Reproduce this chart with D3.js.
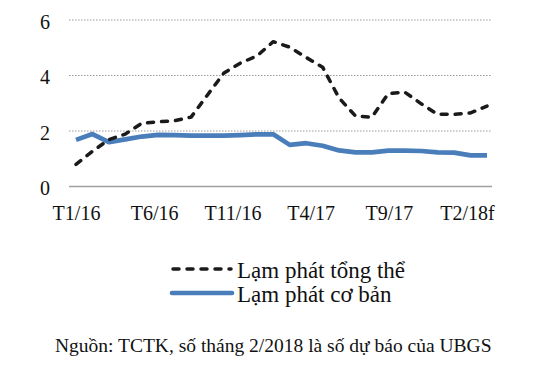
<!DOCTYPE html>
<html>
<head>
<meta charset="utf-8">
<script src="https://cdn.jsdelivr.net/npm/d3@7"></script>
<style>
  body { margin: 0; background: #fff; }
  svg text { font-family: "Liberation Serif", "Times New Roman", serif; fill: #111; }
</style>
</head>
<body>
<svg width="545" height="365"></svg>
<script>
// months Jan 2016 .. Feb 2018
const months = ["T1/16","T2/16","T3/16","T4/16","T5/16","T6/16","T7/16","T8/16","T9/16","T10/16","T11/16","T12/16",
  "T1/17","T2/17","T3/17","T4/17","T5/17","T6/17","T7/17","T8/17","T9/17","T10/17","T11/17","T12/17","T1/18","T2/18f"];
const headline = [0.8,1.27,1.69,1.89,2.28,2.33,2.37,2.5,3.3,4.09,4.45,4.7,5.22,5.02,4.65,4.3,3.19,2.54,2.5,3.35,3.4,2.98,2.6,2.6,2.65,2.9];
const core = [1.68,1.89,1.6,1.7,1.8,1.86,1.85,1.83,1.83,1.83,1.85,1.88,1.88,1.5,1.56,1.47,1.3,1.23,1.23,1.29,1.29,1.28,1.23,1.22,1.12,1.12];
const tickLabels = ["T1/16","T6/16","T11/16","T4/17","T9/17","T2/18f"];
const yTicks = [0,2,4,6];
const seriesNames = ["Lạm phát tổng thể","Lạm phát cơ bản"];
const source = "Nguồn: TCTK, số tháng 2/2018 là số dự báo của UBGS";

const svg = d3.select("svg");
const plotLeft = 69, plotRight = 492, plotTop = 20, plotBottom = 186.5;
const blue = "#4a7ebb";

const x = d3.scalePoint().domain(months).range([76, 487]);
// the category labels in the original sit a little left of their points
const xLabel = d3.scalePoint().domain(months).range([76, 467]);
const y = d3.scaleLinear().domain([0,6]).range([plotBottom, plotTop]);

// gridlines
svg.append("g").selectAll("line")
.data(yTicks.filter(d=>d>0))
.enter()
.append("line")
.attr("x1",plotLeft).attr("x2",plotRight)
.attr("y1",d=>y(d)).attr("y2",d=>y(d))
.style("stroke","#9a9a9a")
.style("stroke-width",1)
.style("stroke-dasharray","1.5,1.5");

// y labels
svg.append("g").selectAll("text")
.data(yTicks)
.enter()
.append("text")
.attr("x",50)
.attr("y",d=>y(d)+8.5)
.attr("text-anchor","end")
.style("font-size","20px")
.text(d=>d);

// x axis
const xAxis = d3.axisBottom(xLabel).tickValues(tickLabels).tickSize(0).tickPadding(19);
const gx = svg.append("g").attr("transform",`translate(0,${plotBottom})`).call(xAxis);
gx.select(".domain").remove();
gx.selectAll("text").style("font-size","20px").style("font-family","Liberation Serif, serif").attr("fill","#111");
svg.append("line")
.attr("x1",plotLeft).attr("x2",plotRight)
.attr("y1",y(0)).attr("y2",y(0))
.style("stroke","#a0a0a0")
.style("stroke-width",1.5);

const line = d3.line().x((d,i)=>x(months[i])).y(d=>y(d));

svg.append("path")
.attr("d",line(core))
.style("fill","none")
.style("stroke",blue)
.style("stroke-width",4.7)
.style("stroke-linejoin","round");

svg.append("path")
.attr("d",line(headline))
.style("fill","none")
.style("stroke","#1a1a1a")
.style("stroke-width",3.5)
.style("stroke-dasharray","6,8")
.style("stroke-linecap","round")
.style("stroke-linejoin","round");

// legend
const legend = svg.append("g");
legend.append("line")
.attr("x1",173).attr("x2",231).attr("y1",269).attr("y2",269)
.style("stroke","#1a1a1a").style("stroke-width",3.5)
.style("stroke-dasharray","6,8").style("stroke-linecap","round");
legend.append("line")
.attr("x1",172).attr("x2",232).attr("y1",293).attr("y2",293)
.style("stroke",blue).style("stroke-width",4.7).style("stroke-linecap","round");
legend.selectAll("text.lg")
.data(seriesNames)
.enter()
.append("text")
.attr("class","lg")
.attr("x",237)
.attr("y",(d,i)=>278+i*24)
.style("font-size","23px")
.text(d=>d);

svg.append("text")
.attr("x",55).attr("y",352)
.style("font-size","19.5px")
.text(source);
</script>
</body>
</html>
